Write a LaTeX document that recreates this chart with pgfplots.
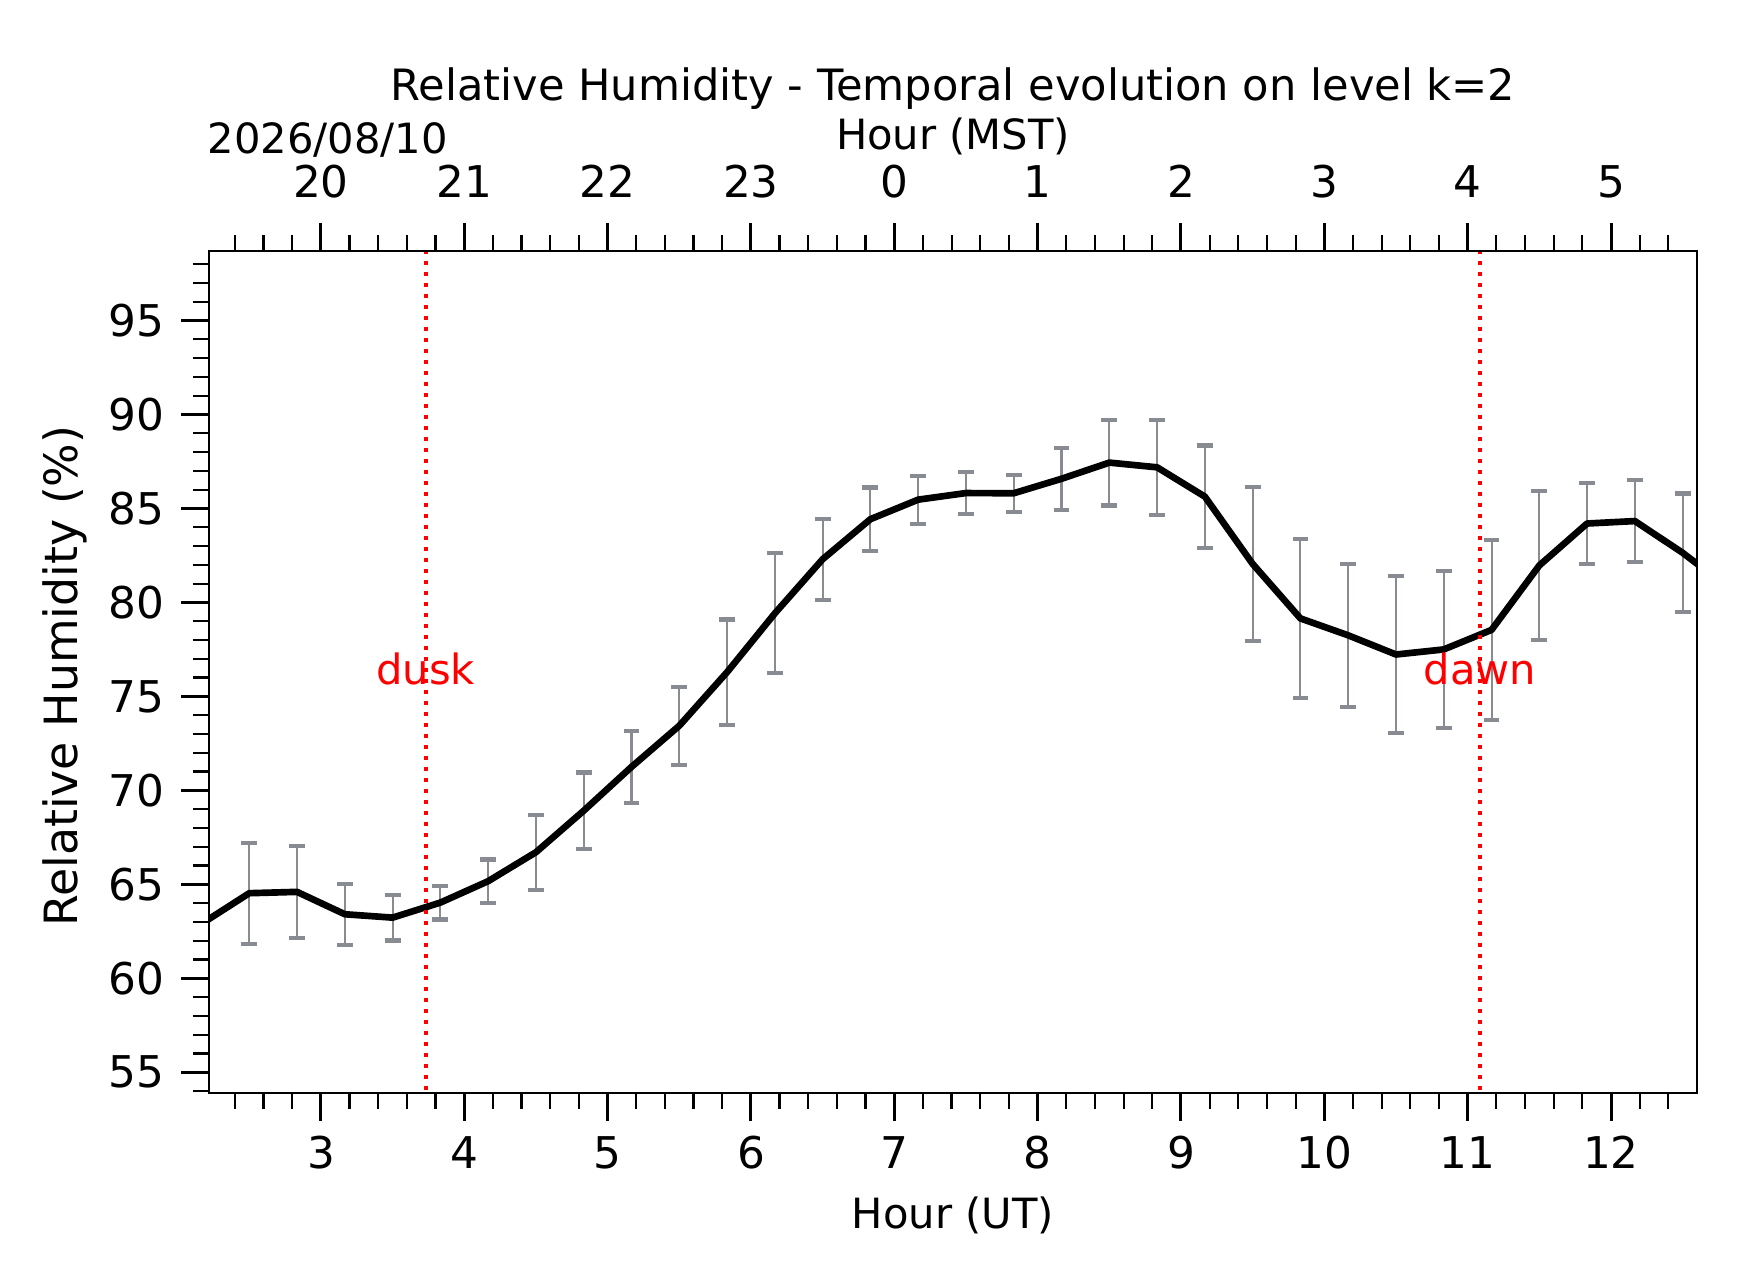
\documentclass[border=0pt]{standalone}
\usepackage{fontspec}
\setmainfont{DejaVu Sans}
\usepackage{pgfplots}
\usepackage{pgfplotstable}
\pgfplotsset{compat=1.18}
\definecolor{errgray}{RGB}{137,139,146}
\newcommand{\tickfont}{\fontsize{10.5}{12.6}\selectfont}
\newcommand{\labfont}{\fontsize{10}{12}\selectfont}
\newcommand{\titlefont}{\fontsize{10.36}{12.4}\selectfont}
\newcommand{\ylabfont}{\fontsize{11}{13.2}\selectfont}

\pgfplotstableread{
t rh err
2.5 64.53 2.69
2.8333 64.60 2.45
3.1667 63.41 1.63
3.5 63.23 1.22
3.8333 64.03 0.90
4.1667 65.17 1.15
4.5 66.71 2.00
4.8333 68.92 2.03
5.1667 71.25 1.92
5.5 73.44 2.08
5.8333 76.29 2.80
6.1667 79.42 3.19
6.5 82.30 2.16
6.8333 84.43 1.69
7.1667 85.47 1.28
7.5 85.82 1.10
7.8333 85.81 0.98
8.1667 86.58 1.65
8.5 87.44 2.28
8.8333 87.19 2.52
9.1667 85.63 2.72
9.5 82.05 4.10
9.8333 79.15 4.24
10.1667 78.25 3.81
10.5 77.23 4.19
10.8333 77.50 4.18
11.1667 78.54 4.80
11.5 81.97 3.97
11.8333 84.20 2.16
12.1667 84.33 2.19
12.5 82.64 3.16
}\rhdata

\begin{document}
\begin{tikzpicture}
\path[use as bounding box] (0,0) rectangle (418.08pt,307.68pt);
\begin{axis}[name=main,
  at={(50.16pt,45.36pt)}, anchor=south west, scale only axis,
  width=357.12pt, height=202.08pt,
  xmin=2.219, xmax=12.6, ymin=53.9, ymax=98.7,
  xtick={3,...,12}, ytick={55,60,...,95},
  minor xtick={2.4,2.6,...,12.4}, minor ytick={54,...,98},
  xtick pos=left, ytick pos=left, tick align=outside,
  major tick length=6.72pt, minor tick length=3.84pt,
  major tick style={line width=0.72pt, black},
  minor tick style={line width=0.55pt, black},
  axis line style={line width=0.7pt},
  /pgf/number format/assume math mode=true,
  ticklabel style={font=\tickfont},
  xticklabel style={anchor=base, yshift=-11.52pt},
  yticklabel style={anchor=east, inner sep=0pt, xshift=-3.84pt},
  title={Relative Humidity - Temporal evolution on level k=2},
  title style={at={(axis description cs:0.5,1.1496)}, anchor=base, font=\titlefont, inner sep=0pt},
  xlabel={Hour (UT)},
  xlabel style={at={(axis description cs:0.5,-0.1607)}, anchor=base, font=\labfont, inner sep=0pt},
  ylabel={Relative Humidity (\%)},
  ylabel style={at={(axis description cs:-0.0885,0.495)}, anchor=base, font=\ylabfont, inner sep=0pt},
]
\addplot[draw=none, mark=none, forget plot,
  error bars/.cd, y dir=both, y explicit,
  error bar style={draw=errgray, line width=0.5pt},
  error mark options={draw=errgray, line width=1pt, mark size=1.9pt, rotate=90}]
  table[x=t, y=rh, y error=err] {\rhdata};
\addplot[black, line width=1.6pt, line join=round, mark=none] coordinates {
(2.1667,62.90) (2.5,64.53) (2.8333,64.60) (3.1667,63.41) (3.5,63.23)
(3.8333,64.03) (4.1667,65.17) (4.5,66.71) (4.8333,68.92) (5.1667,71.25)
(5.5,73.44) (5.8333,76.29) (6.1667,79.42) (6.5,82.30) (6.8333,84.43)
(7.1667,85.47) (7.5,85.82) (7.8333,85.81) (8.1667,86.58) (8.5,87.44)
(8.8333,87.19) (9.1667,85.63) (9.5,82.05) (9.8333,79.15) (10.1667,78.25)
(10.5,77.23) (10.8333,77.50) (11.1667,78.54) (11.5,81.97) (11.8333,84.20)
(12.1667,84.33) (12.5,82.64) (12.8333,80.70)};
\node[red, font=\labfont, anchor=base, inner sep=0pt] at (axis cs:3.731,75.65) {dusk};
\node[red, font=\labfont, anchor=base, inner sep=0pt] at (axis cs:11.085,75.65) {dawn};
\addplot[red, line width=0.96pt, dash pattern=on 0.96pt off 1.68pt, mark=none] coordinates {(3.731,40) (3.731,110)};
\addplot[red, line width=0.96pt, dash pattern=on 0.96pt off 1.68pt, mark=none] coordinates {(11.085,40) (11.085,110)};
\end{axis}
\begin{axis}[
  at={(50.16pt,45.36pt)}, anchor=south west, scale only axis,
  width=357.12pt, height=202.08pt,
  xmin=2.219, xmax=12.6, ymin=53.9, ymax=98.7,
  hide y axis,
  xtick={3,...,12}, xticklabels={20,21,22,23,0,1,2,3,4,5},
  minor xtick={2.4,2.6,...,12.4},
  xtick pos=right, xticklabel pos=right, tick align=outside,
  major tick length=6.72pt, minor tick length=3.84pt,
  major tick style={line width=0.72pt, black},
  minor tick style={line width=0.55pt, black},
  axis line style={line width=0.7pt},
  ticklabel style={font=\tickfont},
  xticklabel style={anchor=base, yshift=6.0pt},
  xlabel={Hour (MST)},
  xlabel style={at={(axis description cs:0.5,1.1208)}, anchor=base, font=\labfont, inner sep=0pt},
]
\end{axis}
\node[font=\labfont, anchor=base west, inner sep=0pt, xshift=-0.5pt, yshift=23.28pt] at (main.north west) {2026/08/10};
\end{tikzpicture}
\end{document}
